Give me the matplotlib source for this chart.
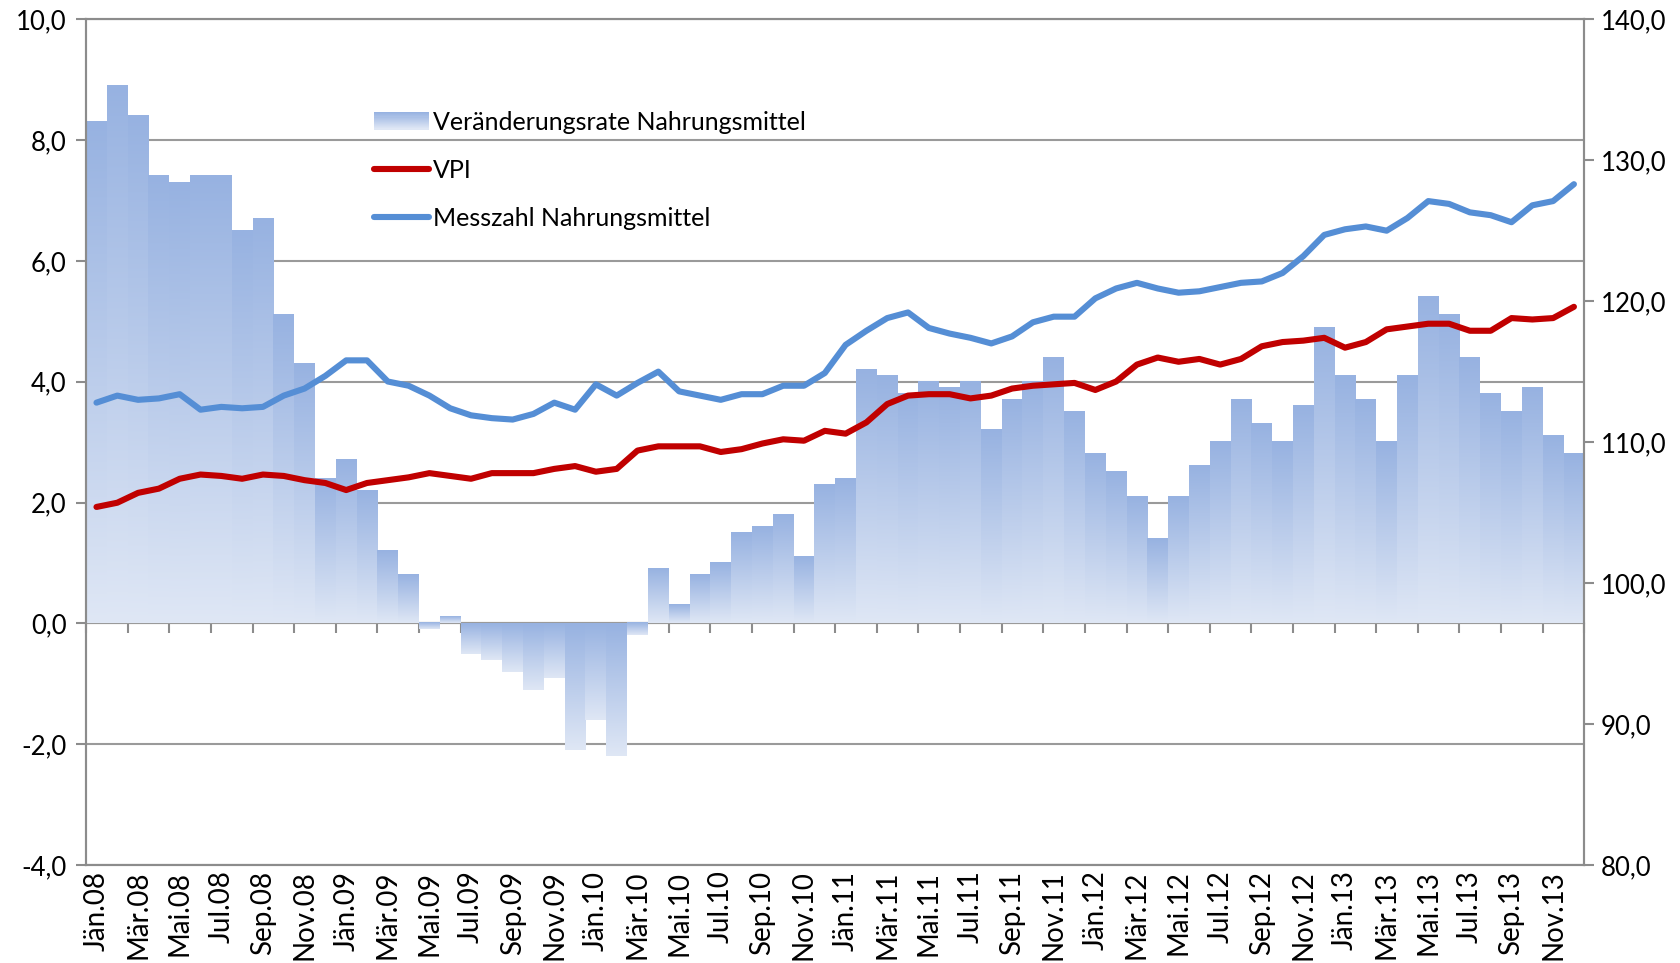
import numpy as np
import matplotlib
matplotlib.use('Agg')
import matplotlib.pyplot as plt
from matplotlib.patches import Rectangle
from matplotlib.legend_handler import HandlerBase
from matplotlib.ticker import FuncFormatter, MultipleLocator
from matplotlib.colors import LinearSegmentedColormap

# monthly categories Jän.08 .. Dez.13
months = ['Jän', 'Feb', 'Mär', 'Apr', 'Mai', 'Jun',
          'Jul', 'Aug', 'Sep', 'Okt', 'Nov', 'Dez']
years = ['08', '09', '10', '11', '12', '13']
categories = [m + '.' + y for y in years for m in months]

# Veränderungsrate Nahrungsmittel (left axis, %)
rate = [8.3, 8.9, 8.4, 7.4, 7.3, 7.4, 7.4, 6.5, 6.7, 5.1, 4.3, 2.4,
        2.7, 2.2, 1.2, 0.8, -0.1, 0.1, -0.5, -0.6, -0.8, -1.1, -0.9, -2.1,
        -1.6, -2.2, -0.2, 0.9, 0.3, 0.8, 1.0, 1.5, 1.6, 1.8, 1.1, 2.3,
        2.4, 4.2, 4.1, 3.8, 4.0, 3.9, 4.0, 3.2, 3.7, 4.0, 4.4, 3.5,
        2.8, 2.5, 2.1, 1.4, 2.1, 2.6, 3.0, 3.7, 3.3, 3.0, 3.6, 4.9,
        4.1, 3.7, 3.0, 4.1, 5.4, 5.1, 4.4, 3.8, 3.5, 3.9, 3.1, 2.8]

# VPI (right axis)
vpi = [105.4, 105.7, 106.4, 106.7, 107.4, 107.7, 107.6, 107.4, 107.7, 107.6, 107.3, 107.1,
       106.6, 107.1, 107.3, 107.5, 107.8, 107.6, 107.4, 107.8, 107.8, 107.8, 108.1, 108.3,
       107.9, 108.1, 109.4, 109.7, 109.7, 109.7, 109.3, 109.5, 109.9, 110.2, 110.1, 110.8,
       110.6, 111.4, 112.7, 113.3, 113.4, 113.4, 113.1, 113.3, 113.8, 114.0, 114.1, 114.2,
       113.7, 114.3, 115.5, 116.0, 115.7, 115.9, 115.5, 115.9, 116.8, 117.1, 117.2, 117.4,
       116.7, 117.1, 118.0, 118.2, 118.4, 118.4, 117.9, 117.9, 118.8, 118.7, 118.8, 119.6]

# Messzahl Nahrungsmittel (right axis)
messzahl = [112.8, 113.3, 113.0, 113.1, 113.4, 112.3, 112.5, 112.4, 112.5, 113.3, 113.8, 114.7,
            115.8, 115.8, 114.3, 114.0, 113.3, 112.4, 111.9, 111.7, 111.6, 112.0, 112.8, 112.3,
            114.1, 113.3, 114.2, 115.0, 113.6, 113.3, 113.0, 113.4, 113.4, 114.0, 114.0, 114.9,
            116.9, 117.9, 118.8, 119.2, 118.1, 117.7, 117.4, 117.0, 117.5, 118.5, 118.9, 118.9,
            120.2, 120.9, 121.3, 120.9, 120.6, 120.7, 121.0, 121.3, 121.4, 122.0, 123.2, 124.7,
            125.1, 125.3, 125.0, 125.9, 127.1, 126.9, 126.3, 126.1, 125.6, 126.8, 127.1, 128.3]

plt.rcParams['font.family'] = ['Lato', 'DejaVu Sans']
grey = '#8c8c8c'
fs_y = 18.5
fs_x = 20
fs_leg = 18
cmap = LinearSegmentedColormap.from_list('grad', ['#97b2e1', '#dfe7f5'])
comma = FuncFormatter(lambda v, p: ('%.1f' % v).replace('.', ','))

fig = plt.figure(figsize=(16.81, 9.63), dpi=100)
ax = fig.add_axes([0.0512, 0.1018, 0.8913, 0.8782])
x = np.arange(len(categories))

# bars with vertical gradient (dark at top, light at bottom)
bars = ax.bar(x, rate, width=1.0, color='none', edgecolor='none', zorder=2)
grad = np.linspace(0, 1, 256).reshape(-1, 1)
for b in bars:
    x0, y0 = b.get_xy()
    w, h = b.get_width(), b.get_height()
    ax.imshow(grad, cmap=cmap, extent=[x0, x0 + w, min(y0, y0 + h), max(y0, y0 + h)],
              origin='upper', aspect='auto', zorder=2, interpolation='bilinear')

ax.set_xlim(-0.5, len(categories) - 0.5)
ax.set_ylim(-4, 10)
ax.yaxis.set_major_locator(MultipleLocator(2))
ax.yaxis.set_major_formatter(comma)
ax.grid(axis='y', color='#9a9a9a', lw=1.5)
ax.set_axisbelow(True)
ax.set_xticks(x[::2])
ax.set_xticklabels(categories[::2], rotation=90, va='top', ha='center')
ax.tick_params(axis='x', length=0, labelsize=fs_x, pad=4)
ax.tick_params(axis='y', length=7, width=1.5, color=grey, labelsize=fs_y, pad=7)
for s in ax.spines.values():
    s.set_color(grey)
    s.set_linewidth(1.5)

# category axis line with tick marks at y = 0
ylo, yhi = ax.get_ylim()
secax = ax.secondary_xaxis((0 - ylo) / (yhi - ylo))
secax.set_xticks(np.arange(-0.5, len(categories), 2))
secax.tick_params(length=7, width=1.5, color=grey, labelbottom=False, labeltop=False)
for s in secax.spines.values():
    s.set_color(grey)
    s.set_linewidth(1.5)

ax2 = ax.twinx()
l1, = ax2.plot(x, vpi, color='#c00000', lw=4.4, solid_capstyle='round',
               solid_joinstyle='round', label='VPI')
l2, = ax2.plot(x, messzahl, color='#558ed5', lw=4.4, solid_capstyle='round',
               solid_joinstyle='round', label='Messzahl Nahrungsmittel')
ax2.set_ylim(80, 140)
ax2.yaxis.set_major_locator(MultipleLocator(10))
ax2.yaxis.set_major_formatter(comma)
ax2.tick_params(axis='y', length=7, width=1.5, color=grey, labelsize=fs_y, pad=5)
for s in ax2.spines.values():
    s.set_color(grey)
    s.set_linewidth(1.5)


class GradientHandler(HandlerBase):
    def create_artists(self, legend, orig_handle, xdescent, ydescent,
                       width, height, fontsize, trans):
        n = 16
        arts = []
        for k in range(n):
            r = Rectangle((-xdescent, -ydescent + height * (1 - (k + 1) / n)),
                          width, height / n + 0.3, facecolor=cmap(k / (n - 1)),
                          edgecolor='none', transform=trans)
            arts.append(r)
        return arts


proxy = Rectangle((0, 0), 1, 1)
fig.legend([proxy, l1, l2],
           ['Veränderungsrate Nahrungsmittel', 'VPI', 'Messzahl Nahrungsmittel'],
           loc='upper left', bbox_to_anchor=(374 / 1681, 1 - 111 / 963),
           frameon=False, fontsize=fs_leg, handlelength=2.2, handletextpad=0.15,
           labelspacing=0.99, borderpad=0, borderaxespad=0,
           handler_map={proxy: GradientHandler()})

fig.savefig('out.png', dpi=100)
plt.close(fig)
